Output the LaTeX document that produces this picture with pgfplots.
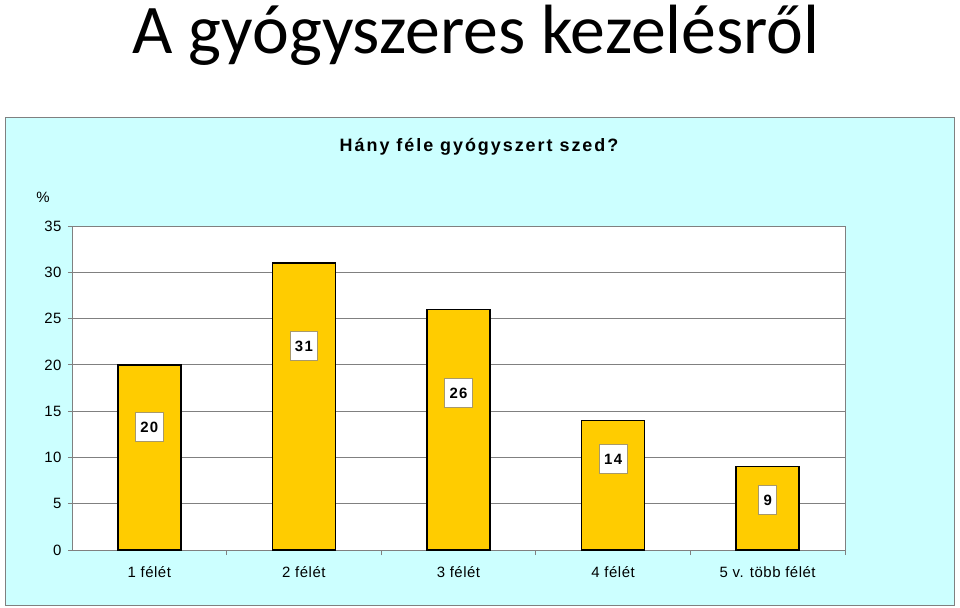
\documentclass[border=0pt]{standalone}
\usepackage{fontspec}
\setmainfont{Liberation Sans}
\newfontfamily\titlefont{Carlito}
\newfontfamily\spaced[LetterSpace=3.5]{Liberation Sans}
\newfontfamily\spacedb[LetterSpace=9]{Liberation Sans}
\newfontfamily\spacedt[LetterSpace=11]{Liberation Sans}
\usepackage{pgfplots}
\pgfplotsset{compat=1.18}
\definecolor{bgcyan}{HTML}{CCFFFF}
\definecolor{baryellow}{HTML}{FFCC00}
\definecolor{gridgray}{HTML}{808080}
\definecolor{lblborder}{HTML}{A8996A}

\begin{document}
\begin{tikzpicture}
\path[use as bounding box] (0bp,0bp) rectangle (960bp,-608bp);
% slide title
\node[anchor=base, inner sep=0, font=\titlefont\fontsize{70}{70}\selectfont] at (476bp,-53bp) {A gyógyszeres kezelésről};
% chart area
\draw[gridgray, fill=bgcyan] (5bp,-117bp) rectangle (954bp,-605bp);
\node[anchor=base, inner sep=0, font=\spacedt\bfseries\fontsize{18}{18}\selectfont] at (479bp,-151bp) {Hány féle gyógyszert szed?};
\node[font=\spaced\fontsize{15}{15}\selectfont] at (43bp,-197bp) {\%};
\begin{axis}[
    at={(72bp,-550bp)}, anchor=south west,
    scale only axis, width=773bp, height=324bp,
    xmin=-0.5, xmax=4.5, ymin=0, ymax=35,
    axis background/.style={fill=white},
    axis line style={gridgray, line width=0.8pt},
    ytick={0,5,...,35},
    ymajorgrids, major grid style={gridgray, line width=0.8pt},
    xtick={0,...,4},
    xticklabels={1 félét, 2 félét, 3 félét, 4 félét, 5 v. több félét},
    minor xtick={0.5,1.5,2.5,3.5,4.5},
    major x tick style={draw=none},
    tick style={gridgray, line width=0.8pt},
    tick align=outside, tick pos=left,
    major tick length=4bp, minor tick length=5bp,
    /pgf/number format/assume math mode=true,
    yticklabel style={font=\spaced\fontsize{15}{15}\selectfont, xshift=-3bp},
    xticklabel style={font=\spaced\fontsize{15}{15}\selectfont, yshift=-9bp},
]
\addplot[ybar, bar width=63bp, fill=baryellow, draw=black, line width=1.6pt]
    coordinates {(0,20) (1,31) (2,26) (3,14) (4,9)};
% value labels, placed inside the bars
\addplot[draw=none, nodes near coords, point meta=explicit symbolic,
    nodes near coords style={anchor=center, fill=white, draw=lblborder, line width=0.8pt,
        font=\spacedb\bfseries\fontsize{15}{15}\selectfont,
        text height=11bp, text depth=0bp, inner xsep=5bp, inner ysep=9bp}]
    coordinates {(0,13.3)[20] (1,22)[31] (2,17)[26] (3,9.8)[14] (4,5.4)[9]};
\end{axis}
\end{tikzpicture}
\end{document}
